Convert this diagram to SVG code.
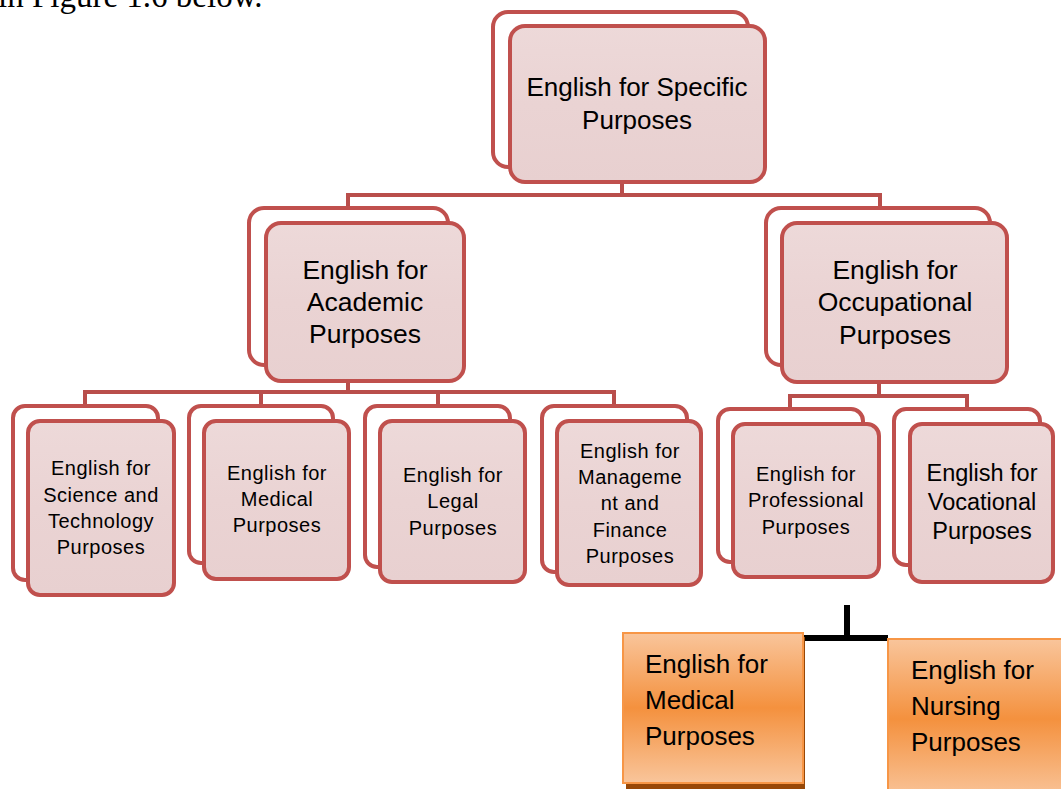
<svg xmlns="http://www.w3.org/2000/svg" width="1061" height="789" viewBox="0 0 1061 789">
<defs>
<linearGradient id="pink" x1="0" y1="0" x2="0" y2="1">
<stop offset="0" stop-color="#EDD9D9"/>
<stop offset="0.5" stop-color="#EAD3D3"/>
<stop offset="1" stop-color="#E8D0D0"/>
</linearGradient>
<linearGradient id="orange" x1="0" y1="0" x2="0" y2="1">
<stop offset="0" stop-color="#F9C59B"/>
<stop offset="0.5" stop-color="#F4913E"/>
<stop offset="1" stop-color="#F9C59B"/>
</linearGradient>
</defs>
<style>
.back{fill:#FFFFFF;stroke:#C0504D;stroke-width:4}
.front{fill:url(#pink);stroke:#C0504D;stroke-width:4}
.conn{fill:none;stroke:#B94E4B;stroke-width:4}
.t{font-family:"Liberation Sans",Arial,sans-serif;fill:#000;text-anchor:middle}
.big{font-size:26px}
.mid{font-size:26.5px}
.sm{font-size:20px;letter-spacing:0.5px}
.obox{fill:url(#orange);stroke:#F79646;stroke-width:2}
.ot{font-family:"Liberation Sans",Arial,sans-serif;font-size:26px;fill:#000}
</style>
<text x="-2" y="7" font-family="Liberation Serif, serif" font-size="33">in Figure 1.6 below.</text>
<g id="connectors">
<path class="conn" d="M622 182 V195 M348 207 V195 H880 V207"/>
<path class="conn" d="M348 382 V392 M85 405 V392 H614 V405 M261 392 V405 M438 392 V405"/>
<path class="conn" d="M879 383 V396 M790 408 V396 H967 V408"/>
<path fill="none" stroke="#000" stroke-width="6" d="M847 605 V638 M803 638 H888"/>
</g>
<g id="node-esp">
<rect class="back" x="493" y="12" width="255" height="155" rx="15"/>
<rect class="front" x="510" y="26" width="255" height="156" rx="15"/>
<text class="t big" x="637" y="96">English for Specific</text>
<text class="t big" x="637" y="129">Purposes</text>
</g>
<g id="node-eap">
<rect class="back" x="249" y="208" width="199" height="157" rx="15"/>
<rect class="front" x="266" y="223" width="198" height="158" rx="15"/>
<text class="t mid" x="365" y="279">English for</text>
<text class="t mid" x="365" y="311">Academic</text>
<text class="t mid" x="365" y="343">Purposes</text>
</g>
<g id="node-eop">
<rect class="back" x="766" y="208" width="224" height="157" rx="15"/>
<rect class="front" x="782" y="223" width="225" height="159" rx="15"/>
<text class="t mid" x="895" y="279">English for</text>
<text class="t mid" x="895" y="311">Occupational</text>
<text class="t mid" x="895" y="344">Purposes</text>
</g>
<g id="node-est">
<rect class="back" x="13" y="406" width="145" height="174" rx="12"/>
<rect class="front" x="28" y="421" width="146" height="174" rx="12"/>
<text class="t sm" x="101" y="475">English for</text>
<text class="t sm" x="101" y="502">Science and</text>
<text class="t sm" x="101" y="528">Technology</text>
<text class="t sm" x="101" y="554">Purposes</text>
</g>
<g id="node-emp">
<rect class="back" x="189" y="406" width="144" height="157" rx="12"/>
<rect class="front" x="204" y="421" width="145" height="158" rx="12"/>
<text class="t sm" x="277" y="480">English for</text>
<text class="t sm" x="277" y="506">Medical</text>
<text class="t sm" x="277" y="532">Purposes</text>
</g>
<g id="node-elp">
<rect class="back" x="365" y="406" width="145" height="161" rx="12"/>
<rect class="front" x="380" y="421" width="145" height="161" rx="12"/>
<text class="t sm" x="453" y="482">English for</text>
<text class="t sm" x="453" y="508">Legal</text>
<text class="t sm" x="453" y="535">Purposes</text>
</g>
<g id="node-emf">
<rect class="back" x="542" y="406" width="145" height="166" rx="12"/>
<rect class="front" x="557" y="421" width="144" height="164" rx="12"/>
<text class="t sm" x="630" y="458">English for</text>
<text class="t sm" x="630" y="484">Manageme</text>
<text class="t sm" x="630" y="510">nt and</text>
<text class="t sm" x="630" y="537">Finance</text>
<text class="t sm" x="630" y="563">Purposes</text>
</g>
<g id="node-epp">
<rect class="back" x="718" y="409" width="145" height="153" rx="12"/>
<rect class="front" x="733" y="424" width="146" height="153" rx="12"/>
<text class="t sm" x="806" y="481">English for</text>
<text class="t sm" x="806" y="507">Professional</text>
<text class="t sm" x="806" y="534">Purposes</text>
</g>
<g id="node-evp">
<rect class="back" x="894" y="409" width="146" height="156" rx="12"/>
<rect class="front" x="910" y="424" width="143" height="158" rx="12"/>
<text class="t" x="982" y="481" font-size="23.5">English for</text>
<text class="t" x="982" y="510" font-size="23.5">Vocational</text>
<text class="t" x="982" y="539" font-size="23.5">Purposes</text>
</g>
<g id="node-emed">
<rect x="626" y="637" width="179" height="152" fill="#984807"/>
<rect class="obox" x="623" y="633" width="180" height="150"/>
<text class="ot" x="645" y="673">English for</text>
<text class="ot" x="645" y="709">Medical</text>
<text class="ot" x="645" y="745">Purposes</text>
</g>
<g id="node-enur">
<rect class="obox" x="888" y="639" width="180" height="160"/>
<text class="ot" x="911" y="679">English for</text>
<text class="ot" x="911" y="715">Nursing</text>
<text class="ot" x="911" y="751">Purposes</text>
</g>
</svg>
